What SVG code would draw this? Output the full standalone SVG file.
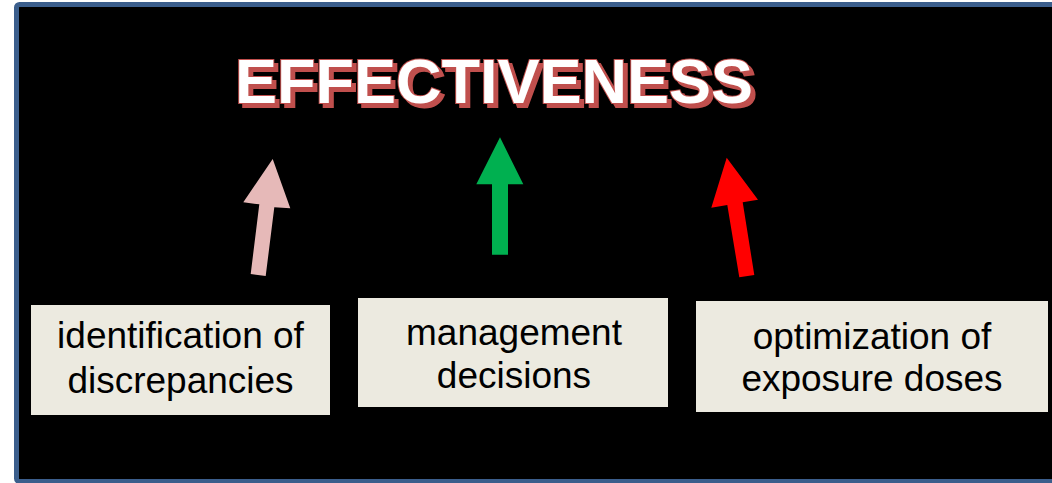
<svg xmlns="http://www.w3.org/2000/svg" width="1052" height="483" viewBox="0 0 1052 483">
  <style>
    .box { fill: #ECEAE0; }
    .label { font-family: "Liberation Sans", Arial, sans-serif; font-size: 37px; fill: #000000; text-anchor: middle; }
    .title { font-family: "Liberation Sans", Arial, sans-serif; font-weight: bold; font-size: 63px; }
  </style>
  <defs>
    <!-- red drop shadow behind the heading -->
    <filter id="redShadow" x="-5%" y="-20%" width="110%" height="150%">
      <feOffset in="SourceAlpha" dx="4" dy="4" result="off"/>
      <feFlood flood-color="#C0504D"/>
      <feComposite operator="in" in2="off" result="shadow"/>
      <feMerge>
        <feMergeNode in="shadow"/>
        <feMergeNode in="SourceGraphic"/>
      </feMerge>
    </filter>
  </defs>

  <!-- page background and framed black panel -->
  <rect x="0" y="0" width="1052" height="483" fill="#FFFFFF"/>
  <rect x="16.5" y="4.5" width="1060" height="477" rx="3" fill="#000000" stroke="#3B5E8C" stroke-width="5"/>

  <!-- heading with drop shadow and outline -->
  <g id="title">
    <text class="title" x="235" y="102.5" fill="#FFFFFF" stroke="#C0504D" stroke-width="2" paint-order="stroke" filter="url(#redShadow)">EFFECTIVENESS</text>
  </g>

  <!-- block arrows pointing up to the heading -->
  <g id="connectors">
    <polygon fill="#E6B9B8" points="272.7,159 290.3,208.3 274.3,207.3 265.7,276 250.7,274 259.3,204.3 243.3,202.3"/>
    <polygon fill="#00B050" points="500,137.3 523.3,184.3 508,184.3 508,254.7 492,254.7 492,184.3 476.3,184.3"/>
    <polygon fill="#FF0000" points="726.7,157.7 758,199.7 742.7,202.3 754.3,275 739.3,277.3 727.3,205 711.3,207.7"/>
  </g>

  <g id="node-discrepancies">
    <rect class="box" x="31" y="305" width="299" height="110"/>
    <text class="label" x="180.5" y="348">identification of</text>
    <text class="label" x="180.5" y="393">discrepancies</text>
  </g>

  <g id="node-management">
    <rect class="box" x="358" y="298" width="310" height="109"/>
    <text class="label" x="514" y="345">management</text>
    <text class="label" x="514" y="388">decisions</text>
  </g>

  <g id="node-optimization">
    <rect class="box" x="696" y="301" width="352" height="111"/>
    <text class="label" x="872" y="349">optimization of</text>
    <text class="label" x="872" y="391">exposure doses</text>
  </g>
</svg>
